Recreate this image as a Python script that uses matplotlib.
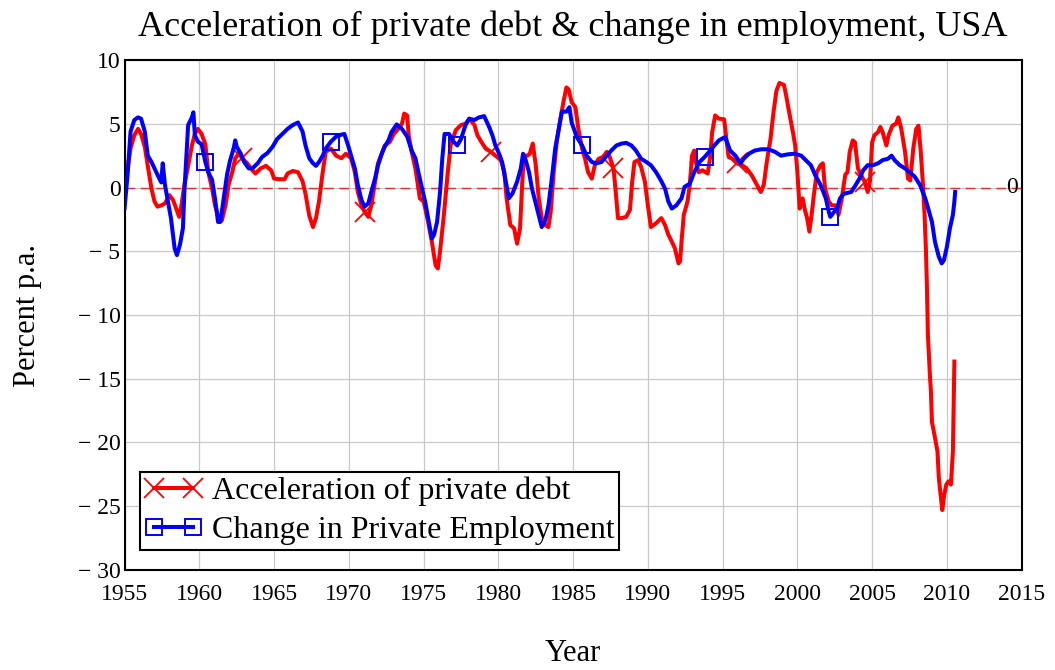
import matplotlib.pyplot as plt
from matplotlib.lines import Line2D
import numpy as np

# acceleration of private debt (percent p.a.)
red_year = [1955.0, 1955.2, 1955.4, 1955.65, 1955.9, 1956.1, 1956.35, 1956.55, 1956.8, 1957.0,
            1957.2, 1957.45, 1957.7, 1958.0, 1958.25, 1958.5, 1958.65, 1958.8, 1959.0, 1959.25,
            1959.5, 1959.7, 1959.9, 1960.15, 1960.4, 1960.5, 1960.6, 1960.85, 1961.05, 1961.35,
            1961.5, 1961.75, 1961.95, 1962.2, 1962.4, 1962.65, 1962.85, 1963.2, 1963.55, 1963.75,
            1964.1, 1964.45, 1964.8, 1965.0, 1965.35, 1965.7, 1965.9, 1966.25, 1966.6, 1966.9,
            1967.1, 1967.35, 1967.6, 1967.8, 1968.0, 1968.25, 1968.45, 1968.8, 1969.15, 1969.5,
            1969.8, 1970.15, 1970.4, 1970.6, 1970.85, 1971.05, 1971.3, 1971.5, 1971.75, 1971.95,
            1972.2, 1972.4, 1972.75, 1973.0, 1973.3, 1973.55, 1973.7, 1973.9, 1974.0, 1974.2,
            1974.45, 1974.75, 1975.0, 1975.25, 1975.55, 1975.8, 1975.95, 1976.1, 1976.35, 1976.6,
            1976.8, 1977.15, 1977.5, 1977.8, 1978.05, 1978.4, 1978.6, 1978.85, 1979.15, 1979.5,
            1979.8, 1980.15, 1980.4, 1980.55, 1980.8, 1981.05, 1981.25, 1981.45, 1981.6, 1981.7,
            1981.95, 1982.1, 1982.3, 1982.5, 1982.7, 1982.9, 1983.15, 1983.35, 1983.5, 1983.7,
            1983.9, 1984.15, 1984.35, 1984.55, 1984.7, 1984.9, 1985.15, 1985.35, 1985.6, 1985.8,
            1986.0, 1986.25, 1986.45, 1986.7, 1987.0, 1987.25, 1987.45, 1987.7, 1987.85, 1988.0,
            1988.25, 1988.55, 1988.8, 1988.95, 1989.1, 1989.35, 1989.55, 1989.8, 1990.0, 1990.2,
            1990.55, 1990.9, 1991.15, 1991.37, 1991.6, 1991.8, 1992.05, 1992.15, 1992.25, 1992.4,
            1992.65, 1992.8, 1992.95, 1993.1, 1993.2, 1993.4, 1993.65, 1994.0, 1994.15, 1994.3,
            1994.5, 1994.75, 1995.1, 1995.25, 1995.4, 1995.65, 1995.95, 1996.3, 1996.6, 1996.95,
            1997.3, 1997.55, 1997.75, 1997.95, 1998.2, 1998.4, 1998.6, 1998.8, 1999.1, 1999.25,
            1999.45, 1999.7, 1999.85, 2000.0, 2000.15, 2000.35, 2000.5, 2000.65, 2000.8, 2000.95,
            2001.1, 2001.3, 2001.55, 2001.7, 2001.85, 2002.1, 2002.3, 2002.55, 2002.75, 2002.95,
            2003.2, 2003.35, 2003.5, 2003.7, 2003.85, 2004.05, 2004.25, 2004.5, 2004.7, 2004.85,
            2005.0, 2005.15, 2005.4, 2005.55, 2005.7, 2005.95, 2006.1, 2006.35, 2006.6, 2006.75,
            2006.95, 2007.2, 2007.4, 2007.55, 2007.75, 2007.95, 2008.1, 2008.25, 2008.4, 2008.5,
            2008.6, 2008.66, 2008.73, 2008.84, 2008.93, 2009.0, 2009.15, 2009.37, 2009.46, 2009.55,
            2009.69, 2009.82, 2009.96, 2010.11, 2010.27, 2010.4, 2010.5]
red_val = [0.0, 1.5, 3.1, 4.1, 4.6, 4.2, 3.2, 1.7, -0.1, -1.1,
           -1.5, -1.4, -1.25, -0.6, -1.0, -1.8, -2.3, -1.4, 0.2, 1.7,
           3.3, 4.2, 4.6, 4.2, 3.4, 2.3, 1.2, -0.1, -1.4, -2.6,
           -2.6, -1.4, 0.2, 1.2, 2.3, 2.7, 2.3, 1.9, 1.35, 1.1,
           1.5, 1.7, 1.35, 0.7, 0.65, 0.65, 1.1, 1.3, 1.2, 0.5,
           -0.5, -2.2, -3.1, -2.4, -1.1, 1.2, 2.8, 3.05, 2.5, 2.3,
           2.65, 2.3, 1.2, -0.35, -1.4, -1.9, -2.3, -1.4, 0.45, 1.9,
           2.65, 3.3, 3.6, 4.2, 4.6, 5.0, 5.8, 5.65, 4.1, 2.8,
           1.5, -0.85, -1.1, -2.4, -4.25, -6.1, -6.35, -5.0, -2.2, 1.0,
           3.3, 4.5, 4.9, 5.0, 5.4, 4.9, 4.1, 3.6, 3.05, 2.8,
           2.5, 2.25, 1.2, -0.85, -2.95, -3.2, -4.4, -3.2, 0.45, 2.5,
           2.5, 2.65, 3.45, 1.75, -0.85, -2.4, -2.95, -3.1, -1.9, 1.2,
           3.55, 5.4, 6.7, 7.85, 7.7, 6.7, 6.3, 4.6, 3.05, 2.25,
           1.2, 0.7, 1.75, 2.25, 2.4, 2.8, 2.4, 1.5, -0.35, -2.4,
           -2.4, -2.3, -1.75, 0.45, 2.0, 2.15, 1.6, 0.45, -1.4, -3.1,
           -2.8, -2.4, -2.95, -3.7, -4.25, -4.75, -5.95, -5.8, -4.25, -2.15,
           -1.1, 0.2, 2.5, 2.9, 2.0, 1.2, 1.35, 1.1, 2.25, 4.35,
           5.65, 5.4, 5.35, 3.8, 2.4, 2.25, 1.9, 1.75, 1.5, 0.95,
           0.2, -0.35, 0.2, 2.0, 3.8, 5.9, 7.6, 8.2, 8.05, 7.2,
           5.9, 4.35, 3.3, 1.2, -1.65, -0.85, -1.75, -2.4, -3.45, -2.15,
           -0.6, 1.2, 1.75, 1.9, -0.1, -1.1, -1.4, -1.4, -2.15, -1.0,
           1.0, 1.2, 2.8, 3.7, 3.55, 1.5, 1.0, 0.45, -0.35, 0.45,
           3.55, 4.1, 4.35, 4.75, 4.35, 3.3, 4.1, 4.85, 5.0, 5.5,
           4.6, 2.8, 0.7, 0.55, 3.05, 4.6, 4.85, 2.8, 0.2, -2.0,
           -5.0, -7.65, -11.6, -14.2, -16.0, -18.4, -19.3, -20.7, -22.8, -23.8,
           -25.3, -24.1, -23.3, -23.05, -23.3, -20.7, -13.65]

# change in private employment (percent p.a.)
blue_year = [1955.0, 1955.2, 1955.4, 1955.65, 1955.9, 1956.1, 1956.35, 1956.55, 1956.8, 1957.0,
             1957.2, 1957.45, 1957.55, 1957.7, 1957.9, 1958.1, 1958.35, 1958.5, 1958.7, 1958.9,
             1959.0, 1959.25, 1959.5, 1959.6, 1959.7, 1959.9, 1960.15, 1960.4, 1960.6, 1960.85,
             1961.05, 1961.25, 1961.4, 1961.6, 1961.85, 1962.05, 1962.3, 1962.4, 1962.5, 1962.75,
             1963.0, 1963.3, 1963.55, 1963.9, 1964.2, 1964.55, 1964.9, 1965.2, 1965.55, 1965.9,
             1966.25, 1966.6, 1966.9, 1967.1, 1967.35, 1967.6, 1967.8, 1968.0, 1968.25, 1968.45,
             1968.8, 1969.15, 1969.5, 1969.7, 1969.95, 1970.15, 1970.4, 1970.6, 1970.85, 1971.05,
             1971.3, 1971.5, 1971.75, 1971.95, 1972.2, 1972.4, 1972.65, 1972.85, 1973.2, 1973.55,
             1973.9, 1974.2, 1974.45, 1974.65, 1974.9, 1975.1, 1975.35, 1975.55, 1975.7, 1975.9,
             1976.1, 1976.25, 1976.4, 1976.7, 1977.0, 1977.25, 1977.5, 1977.8, 1978.05, 1978.4,
             1978.7, 1979.05, 1979.4, 1979.6, 1979.8, 1980.05, 1980.25, 1980.5, 1980.7, 1980.95,
             1981.25, 1981.5, 1981.65, 1981.8, 1982.05, 1982.25, 1982.5, 1982.7, 1982.9, 1983.15,
             1983.35, 1983.6, 1983.8, 1984.0, 1984.25, 1984.55, 1984.75, 1984.9, 1985.25, 1985.6,
             1985.9, 1986.25, 1986.55, 1986.9, 1987.25, 1987.55, 1987.9, 1988.25, 1988.55, 1988.9,
             1989.2, 1989.55, 1989.9, 1990.2, 1990.55, 1990.9, 1991.15, 1991.37, 1991.6, 1991.9,
             1992.25, 1992.45, 1992.8, 1993.1, 1993.45, 1993.8, 1994.1, 1994.45, 1994.75, 1995.15,
             1995.3, 1995.5, 1995.85, 1996.2, 1996.4, 1996.75, 1997.15, 1997.6, 1998.05, 1998.5,
             1998.9, 1999.35, 1999.8, 2000.25, 2000.55, 2000.9, 2001.2, 2001.55, 2001.9, 2002.1,
             2002.2, 2002.4, 2002.65, 2002.85, 2003.1, 2003.25, 2003.6, 2003.9, 2004.15, 2004.4,
             2004.7, 2005.05, 2005.4, 2005.7, 2006.05, 2006.3, 2006.5, 2006.85, 2007.2, 2007.5,
             2007.85, 2008.2, 2008.55, 2008.75, 2009.0, 2009.2, 2009.45, 2009.65, 2009.8, 2010.0,
             2010.2, 2010.4, 2010.5, 2010.55]
blue_val = [-1.6, 1.0, 4.4, 5.3, 5.5, 5.4, 4.4, 2.5, 2.0, 1.5,
            1.0, 0.4, 1.9, 0.2, -1.1, -2.4, -4.8, -5.3, -4.5, -3.2,
            -0.3, 4.9, 5.5, 5.9, 4.1, 3.6, 3.4, 2.0, 1.2, 0.6,
            -0.9, -2.7, -2.7, -1.1, 1.0, 2.1, 3.1, 3.7, 3.2, 2.7,
            2.0, 1.5, 1.5, 1.9, 2.4, 2.7, 3.2, 3.8, 4.2, 4.6,
            4.9, 5.1, 4.4, 3.3, 2.3, 1.9, 1.7, 2.0, 2.5, 3.05,
            3.6, 4.0, 4.15, 4.2, 3.3, 2.5, 1.5, 0.2, -1.0, -1.5,
            -1.25, -0.35, 0.7, 1.75, 2.65, 3.2, 3.7, 4.35, 4.95, 4.6,
            4.0, 2.9, 2.3, 1.2, -0.1, -1.1, -2.7, -4.0, -3.7, -2.7,
            -0.35, 2.3, 4.2, 4.2, 3.6, 3.3, 3.8, 4.9, 5.4, 5.3,
            5.5, 5.6, 4.7, 4.1, 3.3, 2.65, 2.0, 0.45, -0.85, -0.45,
            0.45, 1.5, 2.65, 2.25, 1.2, -0.1, -1.25, -2.15, -3.1, -2.55,
            -1.4, 0.95, 3.05, 4.35, 5.95, 5.95, 6.3, 5.1, 3.95, 3.3,
            2.5, 2.0, 1.9, 2.0, 2.5, 2.9, 3.3, 3.45, 3.5, 3.3,
            2.9, 2.25, 2.0, 1.75, 1.2, 0.5, -0.1, -1.1, -1.65, -1.4,
            -0.85, 0.05, 0.3, 1.2, 2.0, 2.4, 2.8, 3.3, 3.7, 3.95,
            3.55, 2.9, 2.5, 1.9, 2.25, 2.65, 2.9, 3.0, 3.0, 2.8,
            2.5, 2.6, 2.65, 2.5, 2.15, 1.75, 0.95, 0.2, -0.85, -1.9,
            -2.3, -2.0, -1.65, -0.85, -0.5, -0.45, -0.35, 0.2, 0.7, 1.35,
            1.75, 1.75, 1.9, 2.15, 2.25, 2.5, 2.15, 1.75, 1.5, 1.2,
            0.85, 0.2, -0.85, -1.65, -2.7, -4.25, -5.4, -5.95, -5.7, -4.65,
            -3.2, -2.15, -1.1, -0.35]

# where the symbols sit on each trace
red_marks = [1963.0, 1971.1, 1979.5, 1987.6, 1996.1, 2004.5]
blue_marks = [1960.5, 1968.8, 1977.2, 1985.5, 1993.8, 2002.2]

x_ticks = [1955, 1960, 1965, 1970, 1975, 1980, 1985, 1990, 1995, 2000, 2005, 2010, 2015]
y_ticks = [10, 5, 0, -5, -10, -15, -20, -25, -30]
y_tick_labels = ['10', '5', '0', '\u2212 5', '\u2212 10', '\u2212 15', '\u2212 20', '\u2212 25', '\u2212 30']

plt.rcParams['font.family'] = ['Liberation Serif', 'DejaVu Serif']

red_year = np.array(red_year)
blue_year = np.array(blue_year)
red_idx = [int(np.argmin(np.abs(red_year - m))) for m in red_marks]
blue_idx = [int(np.argmin(np.abs(blue_year - m))) for m in blue_marks]

fig = plt.figure(figsize=(10.55, 6.70), dpi=100)
ax = fig.add_axes([0.1181, 0.1493, 0.8503, 0.7611])

ax.axhline(0, color='#e03030', lw=1.0, ls=(0, (7, 4)), zorder=1)
ax.plot(red_year, red_val, color='#ff0000', lw=2.9, marker='x', ms=14, mew=1.3,
        markevery=red_idx, zorder=2)
ax.plot(blue_year, blue_val, color='#0000ff', lw=2.9, marker='s', ms=12, mew=1.4,
        mfc='none', markevery=blue_idx, zorder=3)

ax.set_xlim(1955, 2015)
ax.set_ylim(-30, 10)
ax.set_xticks(x_ticks)
ax.set_yticks(y_ticks)
ax.set_yticklabels(y_tick_labels)
ax.tick_params(length=0, labelsize=17, colors='black')
ax.tick_params(axis='x', pad=10)
ax.tick_params(axis='y', pad=3)
ax.grid(True, color='#c8c8c8', lw=0.9)
ax.set_axisbelow(True)
for s in ax.spines.values():
    s.set_linewidth(1.5)
    s.set_color('black')

ax.text(0.989, 0, '0', transform=ax.get_yaxis_transform(), fontsize=17,
        ha='center', va='center')

ax.set_title('Acceleration of private debt & change in employment, USA', fontsize=26, pad=17)
ax.set_xlabel('Year', fontsize=22)
ax.xaxis.set_label_coords(0.5, -0.135)
ax.set_ylabel('Percent p.a.', fontsize=22)
ax.yaxis.set_label_coords(-0.092, 0.5)

handles = [Line2D([], [], color='#ff0000', lw=2.9, marker='x', ms=14, mew=1.3),
           Line2D([], [], color='#0000ff', lw=2.9, marker='s', ms=12, mew=1.4, mfc='none')]
leg = ax.legend(handles, ['Acceleration of private debt', 'Change in Private Employment'],
                loc='lower left', bbox_to_anchor=(0.017, 0.039), borderaxespad=0,
                fontsize=23, numpoints=2, handlelength=1.8, handletextpad=0.3,
                labelspacing=0.3, borderpad=0.15, fancybox=False, framealpha=1)
leg.get_frame().set_edgecolor('black')
leg.get_frame().set_linewidth(1.5)

fig.savefig('out.png', dpi=100)
